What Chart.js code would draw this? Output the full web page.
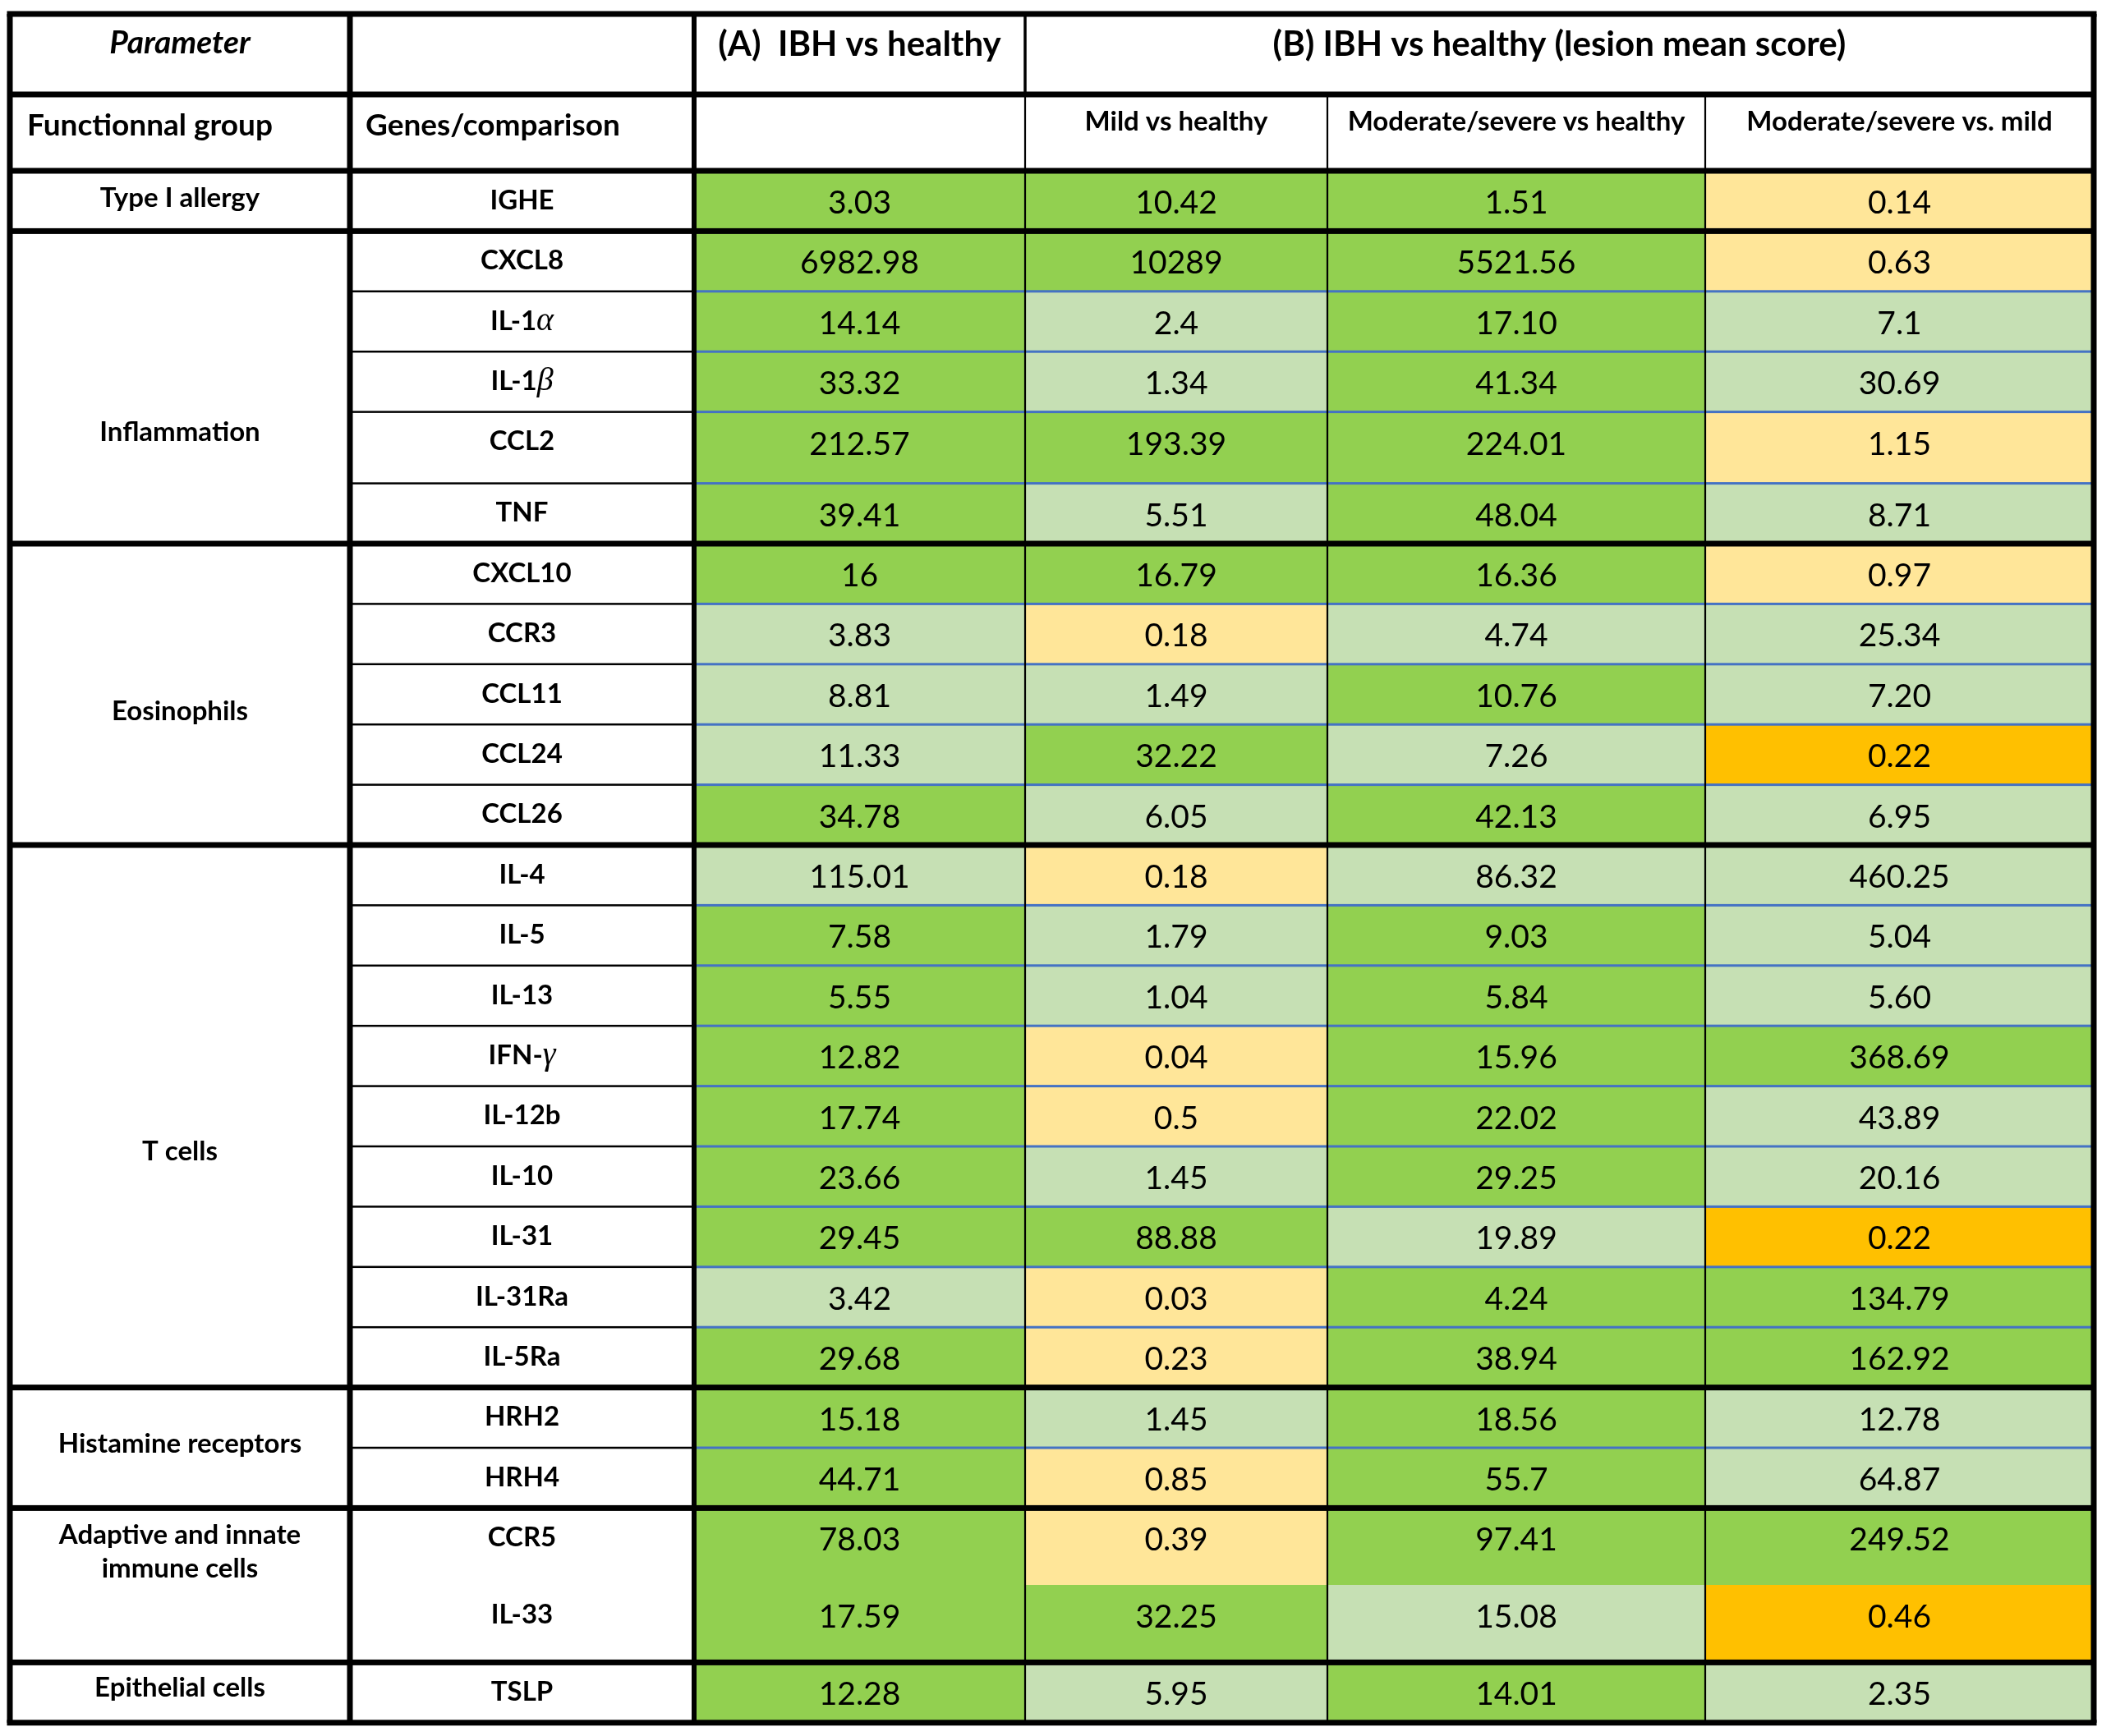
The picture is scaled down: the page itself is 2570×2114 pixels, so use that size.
<!DOCTYPE html>
<html>
<head>
<meta charset="utf-8">
<script src="https://cdn.jsdelivr.net/npm/chart.js@4.4.1/dist/chart.umd.min.js"></script>
<style>
html,body{margin:0;padding:0;background:#ffffff;}
canvas{display:block;}
</style>
</head>
<body>
<canvas id="c" width="2570" height="2114"></canvas>
<script>
// ---------------- DATA ----------------
const headerTitles = ["Parameter", "(A)  IBH vs healthy", "(B) IBH vs healthy (lesion mean score)"];
const subHeaders = ["Functionnal group", "Genes/comparison", "", "Mild vs healthy", "Moderate/severe vs healthy", "Moderate/severe vs. mild"];
const functionalGroups = ["Type I allergy", "Inflammation", "Eosinophils", "T cells", "Histamine receptors", "Adaptive and innate|immune cells", "Epithelial cells"];
const groupSizes = [1, 5, 5, 9, 2, 2, 1];
const genes = ["IGHE", "CXCL8", "IL-1α", "IL-1β", "CCL2", "TNF", "CXCL10", "CCR3", "CCL11", "CCL24", "CCL26",
  "IL-4", "IL-5", "IL-13", "IFN-γ", "IL-12b", "IL-10", "IL-31", "IL-31Ra", "IL-5Ra", "HRH2", "HRH4", "CCR5", "IL-33", "TSLP"];

const ibhVsHealthy = ["3.03", "6982.98", "14.14", "33.32", "212.57", "39.41", "16", "3.83", "8.81", "11.33", "34.78",
  "115.01", "7.58", "5.55", "12.82", "17.74", "23.66", "29.45", "3.42", "29.68", "15.18", "44.71", "78.03", "17.59", "12.28"];
const mildVsHealthy = ["10.42", "10289", "2.4", "1.34", "193.39", "5.51", "16.79", "0.18", "1.49", "32.22", "6.05",
  "0.18", "1.79", "1.04", "0.04", "0.5", "1.45", "88.88", "0.03", "0.23", "1.45", "0.85", "0.39", "32.25", "5.95"];
const modSevVsHealthy = ["1.51", "5521.56", "17.10", "41.34", "224.01", "48.04", "16.36", "4.74", "10.76", "7.26", "42.13",
  "86.32", "9.03", "5.84", "15.96", "22.02", "29.25", "19.89", "4.24", "38.94", "18.56", "55.7", "97.41", "15.08", "14.01"];
const modSevVsMild = ["0.14", "0.63", "7.1", "30.69", "1.15", "8.71", "0.97", "25.34", "7.20", "0.22", "6.95",
  "460.25", "5.04", "5.60", "368.69", "43.89", "20.16", "0.22", "134.79", "162.92", "12.78", "64.87", "249.52", "0.46", "2.35"];

// colour classes: G = up (strong), L = up (moderate), Y = down, O = down (strong)
const classIbh    = ["G","G","G","G","G","G","G","L","L","L","G","L","G","G","G","G","G","G","L","G","G","G","G","G","G"];
const classMild   = ["G","G","L","L","G","L","G","Y","L","G","L","Y","L","L","Y","Y","L","G","Y","Y","L","Y","Y","G","L"];
const classModSev = ["G","G","G","G","G","G","G","L","G","L","G","L","G","G","G","G","G","L","G","G","G","G","G","L","G"];
const classModMild= ["Y","Y","L","L","Y","L","Y","L","L","O","L","L","L","L","G","L","L","O","G","G","L","L","G","O","L"];

// ---------------- LAYOUT / STYLE ----------------
const palette = { G: "#92D050", L: "#C6E0B4", Y: "#FFE699", O: "#FFC000" };
const W = 2570, H = 2114;
const colEdges = [12, 426, 845, 1248, 1616, 2076, 2549];
const tableTop = 17;
const headerHeights = [98, 93];
const baseRowHeight = 73.4;
const tallRows = { "CCL2": 87, "CCR5": 94, "IL-33": 94 };
const joinedBelow = ["CCR5"];
const groupLabelOffsets = [[32], [244], [203], [372], [68], [32, 73], [30]];
const FONT = "Lato, 'Liberation Sans', sans-serif";
const GREEK_FONT = "'Liberation Serif', 'DejaVu Serif', serif";
const CAP = 0.36; // half cap height ratio
const SIZES = { param: 39, title: 42, subLeft: 37, sub: 33, group: 33, gene: 33, value: 39 };

const dataColumns = [ibhVsHealthy, mildVsHealthy, modSevVsHealthy, modSevVsMild];
const classColumns = [classIbh, classMild, classModSev, classModMild];

const rowHeights = genes.map(g => tallRows[g] || baseRowHeight);
const bodyTop = tableTop + headerHeights[0] + headerHeights[1];
const rowTops = [];
{ let t = bodyTop; rowHeights.forEach(h => { rowTops.push(t); t += h; }); }
const tableBottom = rowTops[rowTops.length - 1] + rowHeights[rowHeights.length - 1];
const groupStarts = [];
{ let s = 0; groupSizes.forEach(n => { groupStarts.push(s); s += n; }); }

const datasets = dataColumns.map((vals, k) => ({
  label: k === 0 ? headerTitles[1] : subHeaders[k + 2],
  data: vals.map((v, i) => ({ x: (colEdges[k + 2] + colEdges[k + 3]) / 2, y: [rowTops[i], rowTops[i] + rowHeights[i]] })),
  backgroundColor: classColumns[k].map(c => palette[c]),
  barThickness: colEdges[k + 3] - colEdges[k + 2],
  grouped: false,
  borderWidth: 0,
  borderSkipped: false
}));

function drawText(ctx, text, cx, cy, size, style, align) {
  // supports italic greek letters inside bold text
  const runs = text.split(/([α-ω]+)/).filter(s => s.length);
  const fonts = runs.map(r => /[α-ω]/.test(r) ? `italic ${Math.round(size * 1.2)}px ${GREEK_FONT}` : `${style} ${size}px ${FONT}`);
  let widths = runs.map((r, i) => { ctx.font = fonts[i]; return ctx.measureText(r).width; });
  const total = widths.reduce((a, b) => a + b, 0);
  let x = align === "left" ? cx : cx - total / 2;
  const base = cy + CAP * size;
  ctx.textAlign = "left";
  ctx.textBaseline = "alphabetic";
  ctx.fillStyle = "#000";
  runs.forEach((r, i) => { ctx.font = fonts[i]; ctx.fillText(r, x, base); x += widths[i]; });
}

const tablePlugin = {
  id: "tableDecor",
  afterDatasetsDraw(chart) {
    const { ctx } = chart;
    const xs = chart.scales.x, ys = chart.scales.y;
    const X = v => xs.getPixelForValue(v), Y = v => ys.getPixelForValue(v);
    const hRule = (x0, x1, yv, w, color) => { ctx.fillStyle = color; ctx.fillRect(X(x0), Y(yv) - w / 2, X(x1) - X(x0), w); };
    const vRule = (xv, y0, y1, w, color) => { ctx.fillStyle = color; ctx.fillRect(X(xv) - w / 2, Y(y0), w, Y(y1) - Y(y0)); };
    ctx.save();
    const L = colEdges[0], R = colEdges[6];
    const h1 = tableTop + headerHeights[0];
    // row rules
    for (let i = 0; i < genes.length - 1; i++) {
      const yb = rowTops[i] + rowHeights[i];
      const isGroupEnd = groupStarts.includes(i + 1);
      if (isGroupEnd) continue;
      if (joinedBelow.includes(genes[i])) continue;
      hRule(colEdges[1], colEdges[2], yb, 2.5, "#000");
      hRule(colEdges[2], colEdges[6], yb, 3, "#4472C4");
    }
    // vertical rules
    vRule(colEdges[3], tableTop, h1, 3.5, "#000");
    vRule(colEdges[3], h1, tableBottom, 2.2, "#000");
    vRule(colEdges[4], h1, tableBottom, 2.2, "#000");
    vRule(colEdges[5], h1, tableBottom, 2.2, "#000");
    vRule(colEdges[1], tableTop, tableBottom, 7, "#000");
    vRule(colEdges[2], tableTop, tableBottom, 6, "#000");
    // thick horizontal rules
    hRule(L - 3, R + 3, h1, 7, "#000");
    hRule(L - 3, R + 3, bodyTop, 7, "#000");
    groupStarts.forEach((s, g) => { if (g > 0) hRule(L - 3, R + 3, rowTops[s], 7, "#000"); });
    // outer border
    hRule(L - 3.5, R + 3.5, tableTop, 7, "#000");
    hRule(L - 3.5, R + 3.5, tableBottom, 7, "#000");
    vRule(L, tableTop, tableBottom, 7, "#000");
    vRule(R, tableTop, tableBottom, 7, "#000");

    // header texts
    const cc = k => X((colEdges[k] + colEdges[k + 1]) / 2);
    drawText(ctx, headerTitles[0], cc(0), Y(tableTop + 34), SIZES.param, "italic bold");
    drawText(ctx, headerTitles[1], cc(2), Y(tableTop + 36), SIZES.title, "bold");
    drawText(ctx, headerTitles[2], X((colEdges[3] + colEdges[6]) / 2), Y(tableTop + 36), SIZES.title, "bold");
    drawText(ctx, subHeaders[0], X(colEdges[0] + 21), Y(h1 + 37), SIZES.subLeft, "bold", "left");
    drawText(ctx, subHeaders[1], X(colEdges[1] + 19), Y(h1 + 37), SIZES.subLeft, "bold", "left");
    for (let k = 3; k < 6; k++) drawText(ctx, subHeaders[k], cc(k), Y(h1 + 32), SIZES.sub, "bold");

    // group labels
    functionalGroups.forEach((name, g) => {
      const top = rowTops[groupStarts[g]];
      name.split("|").forEach((line, j) => drawText(ctx, line, cc(0), Y(top + groupLabelOffsets[g][j]), SIZES.group, "bold"));
    });
    // gene labels
    genes.forEach((gname, i) => drawText(ctx, gname, cc(1), Y(rowTops[i] + 35), SIZES.gene, "bold"));
    // values, placed on the bar elements
    chart.data.datasets.forEach((ds, k) => {
      const meta = chart.getDatasetMeta(k);
      meta.data.forEach((el, i) => {
        const top = Math.min(el.y, el.base);
        drawText(ctx, dataColumns[k][i], el.x, top + (Y(rowTops[i] + 38) - Y(rowTops[i])), SIZES.value, "normal");
      });
    });
    ctx.restore();
  }
};

new Chart(document.getElementById("c"), {
  type: "bar",
  data: { labels: genes, datasets },
  options: {
    indexAxis: "x",
    responsive: false,
    maintainAspectRatio: false,
    devicePixelRatio: 1,
    animation: false,
    layout: { padding: 0 },
    plugins: { legend: { display: false }, tooltip: { enabled: false }, title: { display: false } },
    scales: {
      x: { type: "linear", min: 0, max: W, offset: false, display: false },
      y: { type: "linear", min: 0, max: H, reverse: true, display: false }
    }
  },
  plugins: [tablePlugin]
});
</script>
</body>
</html>
